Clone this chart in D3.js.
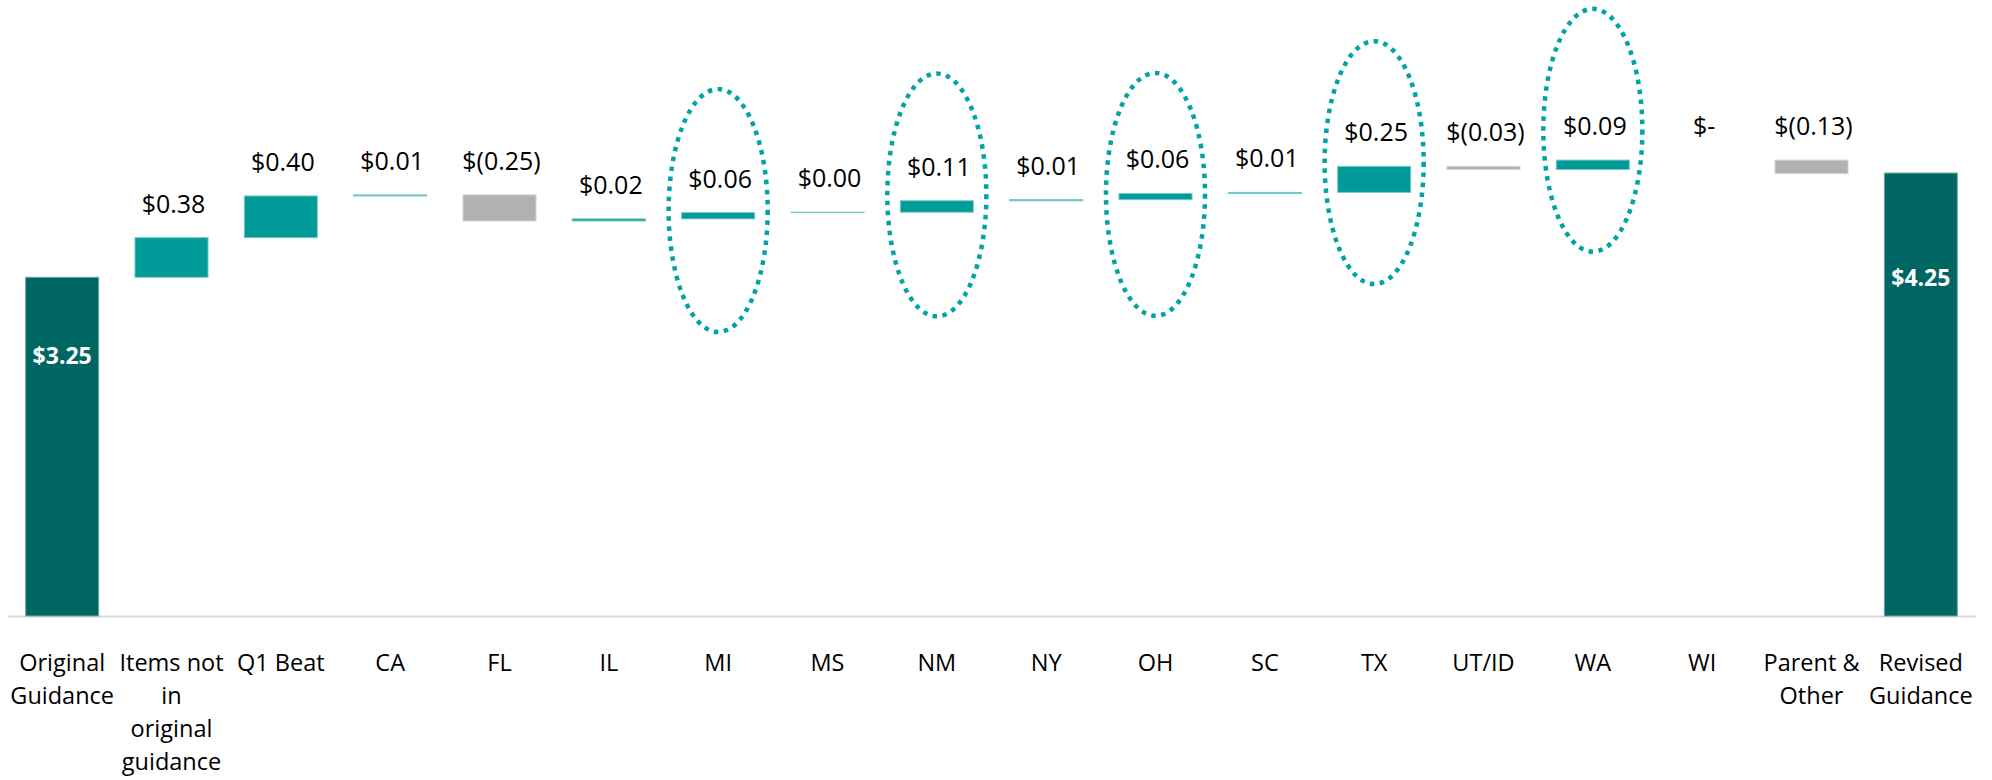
<!DOCTYPE html>
<html>
<head>
<meta charset="utf-8">
<title>EPS guidance walk</title>
<script src="https://cdn.jsdelivr.net/npm/d3@7"></script>
<style>
  body { margin: 0; background: #fff; }
  svg text { font-family: "Open Sans", "Noto Sans", sans-serif; }
</style>
</head>
<body>
<div id="chart-area"></div>
<script>

// EPS walk from original to revised guidance ($ per share)
var categories = ["Original Guidance", "Items not in original guidance", "Q1 Beat", "CA", "FL", "IL", "MI", "MS",
    "NM", "NY", "OH", "SC", "TX", "UT/ID", "WA", "WI", "Parent & Other", "Revised Guidance"];

// how the category names wrap under the axis
var tickLines = [["Original", "Guidance"], ["Items not", "in", "original", "guidance"], ["Q1 Beat"], ["CA"], ["FL"],
    ["IL"], ["MI"], ["MS"], ["NM"], ["NY"], ["OH"], ["SC"], ["TX"], ["UT/ID"], ["WA"], ["WI"],
    ["Parent &", "Other"], ["Revised", "Guidance"]];

var values = [3.25, 0.38, 0.40, 0.01, -0.25, 0.02, 0.06, 0.004, 0.11, 0.01, 0.06, 0.01, 0.25, -0.03, 0.09, 0, -0.13, 4.25];

// first and last columns are totals, the rest are steps
var isTotal = [true, false, false, false, false, false, false, false, false, false, false, false, false, false, false, false, false, true];

// items circled on the slide, with the $ level at the middle of each ring
var circledCats = ["MI", "NM", "OH", "TX", "WA"];
var circledMid = [3.89, 4.04, 4.045, 4.35, 4.66];


/*
 * Waterfall - Object constructor function
 * @param _parentElement 	-- the HTML element in which to draw the visualization
 */

Waterfall = function(_parentElement){

    this.parentElement = _parentElement;

    // running total -> start / end of every column
    var run = 0;
    this.data = categories.map(function(c, i) {
        var d = {cat: c, value: values[i], total: isTotal[i]};
        if (d.total) {
            d.start = 0;
            d.end = d.value;
            run = d.value;
        } else {
            d.start = run;
            d.end = run + d.value;
            run = d.end;
        }
        return d;
    });

    this.initVis();
}


Waterfall.prototype.initVis = function(){
    var vis = this;

    vis.margin = {top: 0, right: 16.5, bottom: 164, left: 7.5};

    vis.width = 1992 - vis.margin.left - vis.margin.right,
    vis.height = 780 - vis.margin.top - vis.margin.bottom;

    vis.svg = d3.select("#" + vis.parentElement).append("svg")
        .attr("width", vis.width + vis.margin.left + vis.margin.right)
        .attr("height", vis.height + vis.margin.top + vis.margin.bottom)
      .append("g")
        .attr("transform", "translate(" + vis.margin.left + "," + vis.margin.top + ")");

    // Scales
    vis.x = d3.scaleBand()
        .domain(categories)
        .range([0, vis.width])
        .paddingInner(0.332)
        .paddingOuter(0.166);

    vis.y = d3.scaleLinear()
        .domain([0, 5.91])
        .range([vis.height, 0]);

    vis.colorOf = function(d) {
        if (d.total) return "#006663";
        return d.value > 0 ? "#009b98" : "#b1b1b2";
    };

    vis.money = function(v) {
        if (v === 0) return "$-";
        if (v < 0) return "$(" + Math.abs(v).toFixed(2) + ")";
        return "$" + v.toFixed(2);
    };

    // Axis (category names only, no ticks)
    vis.xAxis = d3.axisBottom(vis.x)
        .tickSize(0)
        .tickSizeOuter(0);

    var axisG = vis.svg.append("g")
        .attr("class", "x-axis axis")
        .attr("transform", "translate(0," + vis.height + ")")
        .call(vis.xAxis);

    axisG.select(".domain")
        .attr("stroke", "#d9d9d9")
        .attr("stroke-width", 2);

    axisG.selectAll(".tick text")
        .attr("font-family", "'Open Sans', sans-serif")
        .attr("font-size", 23.5)
        .attr("fill", "#000")
        .attr("y", 0)
        .attr("dy", null)
        .each(function(c) {
            var t = d3.select(this).text(null);
            tickLines[categories.indexOf(c)].forEach(function(line, i) {
                t.append("tspan")
                    .attr("x", 0)
                    .attr("y", 55 + i * 33)
                    .text(line);
            });
        });

    // Columns
    vis.svg.selectAll(".bar")
        .data(vis.data)
      .enter().append("rect")
        .attr("class", "bar")
        .attr("x", function(d) { return vis.x(d.cat); })
        .attr("width", vis.x.bandwidth())
        .attr("y", function(d) { return vis.y(Math.max(d.start, d.end)); })
        .attr("height", function(d) { return Math.abs(vis.y(d.start) - vis.y(d.end)); })
        .attr("fill", vis.colorOf)
        .attr("stroke", function(d) {
            return d.value === 0 ? "#ececec" : d3.interpolateRgb(vis.colorOf(d), "#fff")(0.45);
        })
        .attr("stroke-width", 1);

    // step labels sit above each column
    vis.svg.selectAll(".step-label")
        .data(vis.data.filter(function(d) { return !d.total; }))
      .enter().append("text")
        .attr("class", "step-label")
        .attr("x", function(d) { return vis.x(d.cat) + vis.x.bandwidth() / 2 + 2; })
        .attr("y", function(d) { return vis.y(Math.max(d.start, d.end)) - 25; })
        .attr("text-anchor", "middle")
        .attr("font-size", 25)
        .attr("fill", "#000")
        .text(function(d) { return vis.money(d.value); });

    // total labels inside the dark columns
    vis.svg.selectAll(".total-label")
        .data(vis.data.filter(function(d) { return d.total; }))
      .enter().append("text")
        .attr("class", "total-label")
        .attr("x", function(d) { return vis.x(d.cat) + vis.x.bandwidth() / 2; })
        .attr("y", function(d) { return vis.y(d.value * 0.745); })
        .attr("text-anchor", "middle")
        .attr("font-size", 23)
        .attr("font-weight", "bold")
        .attr("fill", "#fff")
        .text(function(d) { return vis.money(d.value); });

    // dotted rings round the highlighted states
    vis.svg.selectAll(".ring")
        .data(circledCats)
      .enter().append("ellipse")
        .attr("class", "ring")
        .attr("cx", function(c) { return vis.x(c) + vis.x.bandwidth() / 2; })
        .attr("cy", function(c, i) { return vis.y(circledMid[i]); })
        .attr("rx", vis.x.step() * 0.453)
        .attr("ry", vis.y(0) - vis.y(1.165))
        .attr("fill", "none")
        .attr("stroke", "#00a3a6")
        .attr("stroke-width", 4.5)
        .attr("stroke-dasharray", "4.5,5.5");
}

var chart = new Waterfall("chart-area");

</script>
</body>
</html>
